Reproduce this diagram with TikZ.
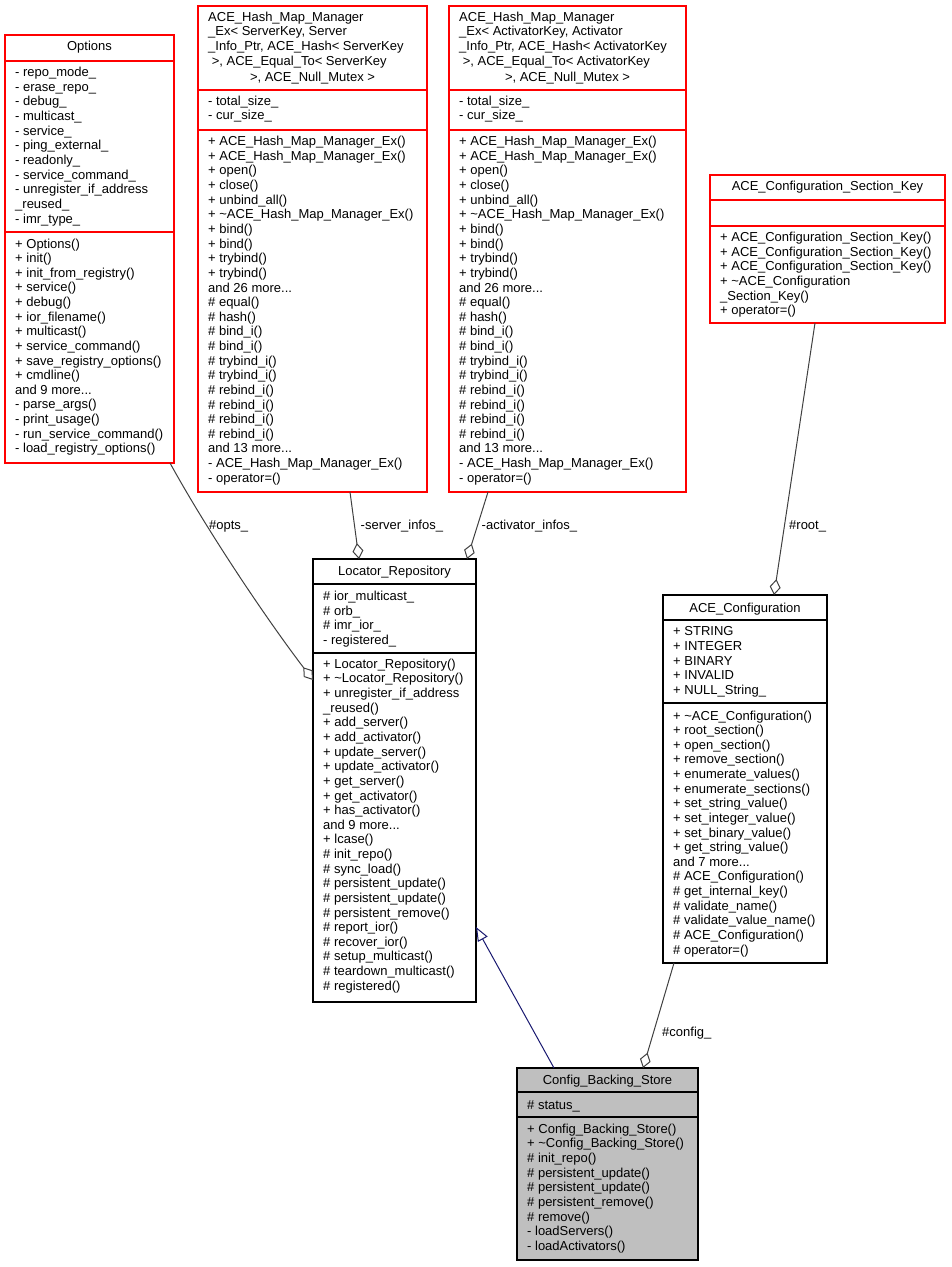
\documentclass[tikz,border=0pt]{standalone}
\usepackage{fontspec}
\setmainfont{Liberation Sans}
\usetikzlibrary{arrows.meta}
\definecolor{edgegray}{HTML}{404040}
\definecolor{inhblue}{HTML}{191970}
\definecolor{cbsfill}{HTML}{BFBFBF}
\definecolor{boxred}{HTML}{FF0000}
\newcommand\clsfont{\fontsize{13}{14.63}\selectfont}
\newcommand\clsseps[4]{%
  \draw[draw=#2, line width=1.1pt] ([yshift=-#3pt]#1.north west) -- ([yshift=-#3pt]#1.north east);
  \draw[draw=#2, line width=1.1pt] ([yshift=-#4pt]#1.north west) -- ([yshift=-#4pt]#1.north east);}
\begin{document}
\begin{tikzpicture}[x=1pt,y=-1pt,
  cbox/.style={draw=#1, line width=1.1pt, inner sep=0pt, outer sep=0pt, anchor=north west},
  txt/.style={anchor=north west, inner sep=0pt, align=left, font=\clsfont, execute at begin node=\strut},
  hdr/.style={anchor=base, inner sep=0pt, font=\clsfont},
  lbl/.style={anchor=base west, inner sep=0pt, font=\clsfont},
  agg/.style={draw=edgegray, line width=1pt, -{Diamond[open, length=16pt, width=11pt]}},
  inhe/.style={draw=inhblue, line width=1pt, -{Triangle[open, length=14pt, width=11pt]}}
]
\useasboundingbox (0,0) rectangle (951,1267);

% ---------- Options ----------
\node[cbox=boxred, minimum width=169pt, minimum height=428pt] (opt) at (5,35) {};
\clsseps{opt}{boxred}{26}{197}
\node[hdr] (opth) at (89.5,50.6) {Options};
\node[txt] (opta) at (15,67.1) {- repo\_mode\_\\- erase\_repo\_\\- debug\_\\- multicast\_\\- service\_\\- ping\_external\_\\- readonly\_\\- service\_command\_\\- unregister\_if\_address\\\_reused\_\\- imr\_type\_};
\node[txt] (optm) at (15,238.4) {+ Options()\\+ init()\\+ init\_from\_registry()\\+ service()\\+ debug()\\+ ior\_filename()\\+ multicast()\\+ service\_command()\\+ save\_registry\_options()\\+ cmdline()\\and 9 more...\\- parse\_args()\\- print\_usage()\\- run\_service\_command()\\- load\_registry\_options()};

% ---------- Hash map (server) ----------
\node[cbox=boxred, minimum width=229pt, minimum height=486pt] (hs) at (198,6) {};
\clsseps{hs}{boxred}{84}{124}
\node[txt] (hsh) at (208,11.7) {ACE\_Hash\_Map\_Manager\\\_Ex< ServerKey, Server\\\_Info\_Ptr, ACE\_Hash< ServerKey\\\hspace*{0.278em}>, ACE\_Equal\_To< ServerKey};
\node[hdr] (hsh2) at (312.5,81.3) {>, ACE\_Null\_Mutex >};
\node[txt] (hsa) at (208,95.4) {- total\_size\_\\- cur\_size\_};
\node[txt] (hsm) at (208,136.1) {+ ACE\_Hash\_Map\_Manager\_Ex()\\+ ACE\_Hash\_Map\_Manager\_Ex()\\+ open()\\+ close()\\+ unbind\_all()\\+ \textasciitilde ACE\_Hash\_Map\_Manager\_Ex()\\+ bind()\\+ bind()\\+ trybind()\\+ trybind()\\and 26 more...\\\# equal()\\\# hash()\\\# bind\_i()\\\# bind\_i()\\\# trybind\_i()\\\# trybind\_i()\\\# rebind\_i()\\\# rebind\_i()\\\# rebind\_i()\\\# rebind\_i()\\and 13 more...\\- ACE\_Hash\_Map\_Manager\_Ex()\\- operator=()};

% ---------- Hash map (activator) ----------
\node[cbox=boxred, minimum width=237pt, minimum height=486pt] (ha) at (449,6) {};
\clsseps{ha}{boxred}{84}{124}
\node[txt] (hah) at (459,11.7) {ACE\_Hash\_Map\_Manager\\\_Ex< ActivatorKey, Activator\\\_Info\_Ptr, ACE\_Hash< ActivatorKey\\\hspace*{0.278em}>, ACE\_Equal\_To< ActivatorKey};
\node[hdr] (hah2) at (567.5,81.3) {>, ACE\_Null\_Mutex >};
\node[txt] (haa) at (459,95.4) {- total\_size\_\\- cur\_size\_};
\node[txt] (ham) at (459,136.1) {+ ACE\_Hash\_Map\_Manager\_Ex()\\+ ACE\_Hash\_Map\_Manager\_Ex()\\+ open()\\+ close()\\+ unbind\_all()\\+ \textasciitilde ACE\_Hash\_Map\_Manager\_Ex()\\+ bind()\\+ bind()\\+ trybind()\\+ trybind()\\and 26 more...\\\# equal()\\\# hash()\\\# bind\_i()\\\# bind\_i()\\\# trybind\_i()\\\# trybind\_i()\\\# rebind\_i()\\\# rebind\_i()\\\# rebind\_i()\\\# rebind\_i()\\and 13 more...\\- ACE\_Hash\_Map\_Manager\_Ex()\\- operator=()};

% ---------- ACE_Configuration_Section_Key ----------
\node[cbox=boxred, minimum width=235pt, minimum height=148pt] (sk) at (710,175) {};
\clsseps{sk}{boxred}{25}{51}
\node[hdr] (skh) at (827.5,190.6) {ACE\_Configuration\_Section\_Key};
\node[txt] (skm) at (720,232.1) {+ ACE\_Configuration\_Section\_Key()\\+ ACE\_Configuration\_Section\_Key()\\+ ACE\_Configuration\_Section\_Key()\\+ \textasciitilde ACE\_Configuration\\\_Section\_Key()\\+ operator=()};

% ---------- Locator_Repository ----------
\node[cbox=black, minimum width=163pt, minimum height=443pt] (lr) at (313,559) {};
\clsseps{lr}{black}{25}{94}
\node[hdr] (lrh) at (394.5,575.3) {Locator\_Repository};
\node[txt] (lra) at (323,591.1) {\# ior\_multicast\_\\\# orb\_\\\# imr\_ior\_\\- registered\_};
\node[txt] (lrm) at (323,658.7) {+ Locator\_Repository()\\+ \textasciitilde Locator\_Repository()\\+ unregister\_if\_address\\\_reused()\\+ add\_server()\\+ add\_activator()\\+ update\_server()\\+ update\_activator()\\+ get\_server()\\+ get\_activator()\\+ has\_activator()\\and 9 more...\\+ lcase()\\\# init\_repo()\\\# sync\_load()\\\# persistent\_update()\\\# persistent\_update()\\\# persistent\_remove()\\\# report\_ior()\\\# recover\_ior()\\\# setup\_multicast()\\\# teardown\_multicast()\\\# registered()};

% ---------- ACE_Configuration ----------
\node[cbox=black, minimum width=164pt, minimum height=368pt] (ac) at (663,595) {};
\clsseps{ac}{black}{25}{108}
\node[hdr] (ach) at (745,612.1) {ACE\_Configuration};
\node[txt] (aca) at (673,626.7) {+ STRING\\+ INTEGER\\+ BINARY\\+ INVALID\\+ NULL\_String\_};
\node[txt] (acm) at (673,710.4) {+ \textasciitilde ACE\_Configuration()\\+ root\_section()\\+ open\_section()\\+ remove\_section()\\+ enumerate\_values()\\+ enumerate\_sections()\\+ set\_string\_value()\\+ set\_integer\_value()\\+ set\_binary\_value()\\+ get\_string\_value()\\and 7 more...\\\# ACE\_Configuration()\\\# get\_internal\_key()\\\# validate\_name()\\\# validate\_value\_name()\\\# ACE\_Configuration()\\\# operator=()};

% ---------- Config_Backing_Store ----------
\node[cbox=black, fill=cbsfill, minimum width=181pt, minimum height=192pt] (cbs) at (517,1068) {};
\clsseps{cbs}{black}{24}{49}
\node[hdr] (cbsh) at (607.5,1084.1) {Config\_Backing\_Store};
\node[txt] (cbsa) at (527,1099.4) {\# status\_};
\node[txt] (cbsm) at (527,1123.7) {+ Config\_Backing\_Store()\\+ \textasciitilde Config\_Backing\_Store()\\\# init\_repo()\\\# persistent\_update()\\\# persistent\_update()\\\# persistent\_remove()\\\# remove()\\- loadServers()\\- loadActivators()};

% ---------- connectors ----------
\draw[agg] ([xshift=165pt]opt.south west) .. controls (208.5,533) and (268,621) .. ([yshift=-121pt]lr.north west);
\draw[agg] ([xshift=152pt]hs.south west) -- ([xshift=46pt]lr.north west);
\draw[agg] ([xshift=39pt]ha.south west) -- ([xshift=154pt]lr.north west);
\draw[agg] ([xshift=105pt]sk.south west) -- ([xshift=111pt]ac.north west);
\draw[agg] ([xshift=11pt]ac.south west) -- ([xshift=126pt]cbs.north west);
\draw[inhe] ([xshift=37pt]cbs.north west) -- ([yshift=-368pt]lr.north east);

% ---------- labels ----------
\node[lbl] (l1) at (209,529.6) {\#opts\_};
\node[lbl] (l2) at (360.5,529.6) {-server\_infos\_};
\node[lbl] (l3) at (481.5,529.6) {-activator\_infos\_};
\node[lbl] (l4) at (789,529.6) {\#root\_};
\node[lbl] (l5) at (662,1036.3) {\#config\_};
\end{tikzpicture}
\end{document}
